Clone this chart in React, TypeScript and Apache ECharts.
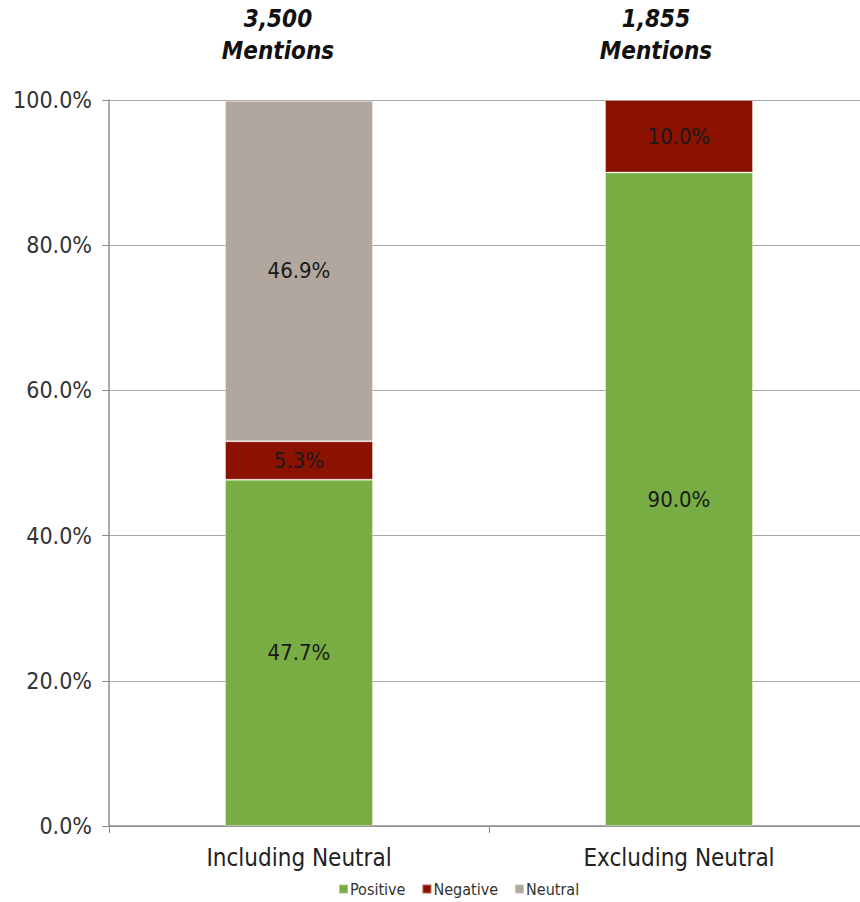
import React, { useEffect, useRef } from "react";
import * as echarts from "echarts";

// Sentiment share per view, in percent
const categories = ["Including Neutral", "Excluding Neutral"];
const positive = [47.7, 90.0];
const negative = [5.3, 10.0];
const neutral = [46.9, null];
const mentionTotals = ["3,500", "1,855"];
const yTicks = [0, 20, 40, 60, 80, 100];

const FONT = "'DejaVu Sans Condensed', Lato, sans-serif";
const GREEN = "#77AD42";
const RED = "#8B1101";
const GRAY = "#B1A79E";

export default function App() {
  const ref = useRef<HTMLDivElement>(null);

  useEffect(() => {
    if (!ref.current) return;
    const chart = echarts.init(ref.current, undefined, { renderer: "svg" });

    const labelStyle = (color: string) => ({
      show: true,
      position: "inside" as const,
      fontFamily: FONT,
      fontSize: 22,
      color,
      formatter: (p: any) => (p.value == null ? "" : `${Number(p.value).toFixed(1)}%`),
    });

    const makeSeries = (name: string, data: (number | null)[], color: string, labelColor: string) => ({
      name,
      type: "bar",
      stack: "share",
      data,
      barWidth: 148,
      itemStyle: { color, borderColor: "rgba(255,255,255,0.35)", borderWidth: 1 },
      label: labelStyle(labelColor),
    });

    chart.setOption({
      animation: false,
      backgroundColor: "#ffffff",
      // the plot runs past the right edge, so the last category ends off-page
      grid: {
        left: 109,
        width: 760,
        top: 100,
        height: 726,
        containLabel: false,
        outerBoundsMode: "none",
      },
      title: mentionTotals.map((t, i) => ({
        text: `${t}\nMentions`,
        left: i === 0 ? 273 : 651,
        top: -2,
        textAlign: "center",
        textStyle: {
          fontFamily: FONT,
          fontSize: 24,
          fontWeight: "bold",
          fontStyle: "italic",
          color: "#111111",
          lineHeight: 32,
        },
      })),
      legend: {
        data: ["Positive", "Negative", "Neutral"],
        bottom: 0,
        left: 333,
        itemWidth: 9,
        itemHeight: 9,
        itemGap: 16,
        icon: "rect",
        textStyle: { fontFamily: FONT, fontSize: 16, color: "#333333", padding: [0, 0, 0, -3] },
      },
      xAxis: {
        type: "category",
        data: categories,
        axisLine: { lineStyle: { color: "#8C8C8C", width: 1.5 } },
        axisTick: { show: true, alignWithLabel: false, length: 7, lineStyle: { color: "#8C8C8C" } },
        axisLabel: { fontFamily: FONT, fontSize: 24, color: "#222222", margin: 20 },
      },
      yAxis: {
        type: "value",
        min: yTicks[0],
        max: yTicks[yTicks.length - 1],
        interval: 20,
        axisLine: { show: true, lineStyle: { color: "#8C8C8C", width: 1.5 } },
        axisTick: { show: true, length: 7, lineStyle: { color: "#8C8C8C" } },
        splitLine: { show: true, lineStyle: { color: "#A6A6A6", width: 1 } },
        axisLabel: {
          fontFamily: FONT,
          fontSize: 23,
          color: "#333333",
          margin: 17,
          formatter: (v: number) => `${v.toFixed(1)}%`,
        },
      },
      series: [
        makeSeries("Positive", positive, GREEN, "#1a1a1a"),
        makeSeries("Negative", negative, RED, "#1a1a1a"),
        makeSeries("Neutral", neutral, GRAY, "#1a1a1a"),
      ],
    });

    return () => chart.dispose();
  }, []);

  return (
    <div
      ref={ref}
      style={{ position: "absolute", left: 0, top: 0, width: 860, height: 902, overflow: "hidden" }}
    />
  );
}
